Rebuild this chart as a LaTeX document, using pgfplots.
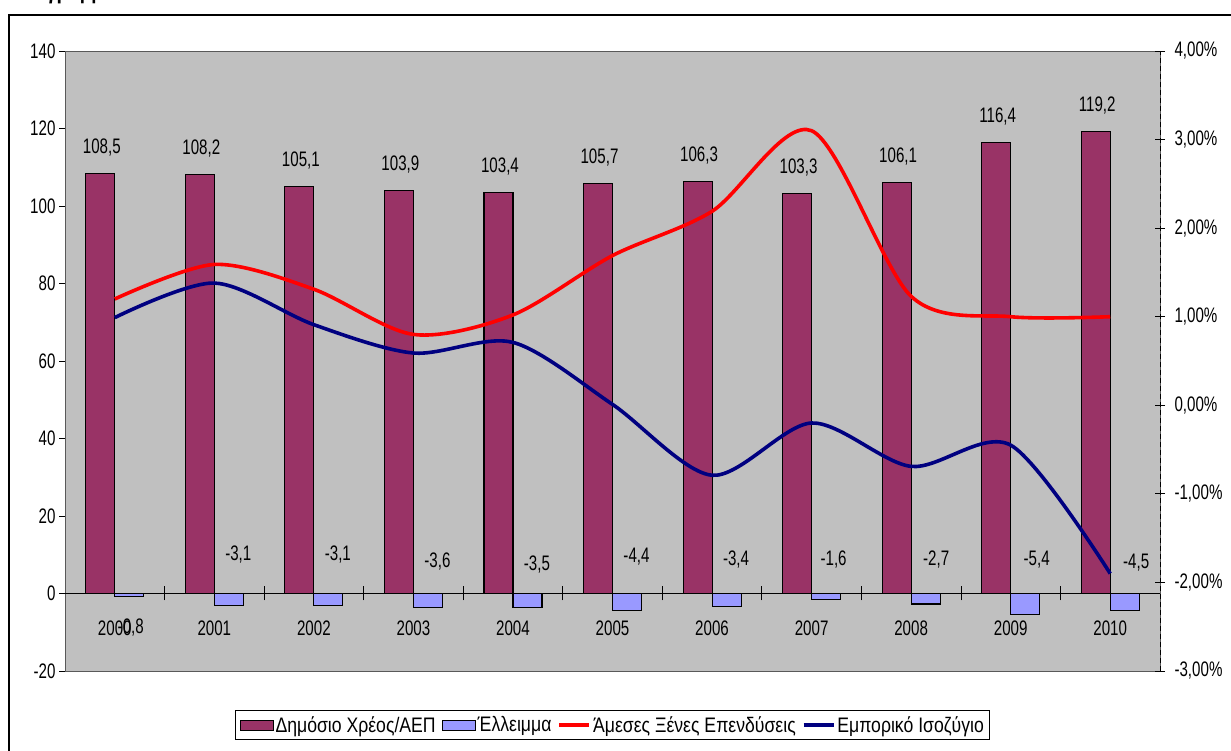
\documentclass[border=0pt]{standalone}
\usepackage{fontspec}
\setmainfont{Liberation Sans}[FakeStretch=0.72]
\newfontfamily\legfont{Liberation Sans}[FakeStretch=0.84]
\usepackage{pgfplots}
\pgfplotsset{compat=1.18}
\definecolor{debt}{HTML}{993366}
\definecolor{defc}{HTML}{9999FF}
\definecolor{fdi}{HTML}{FF0000}
\definecolor{trade}{HTML}{000080}
\definecolor{plotbg}{HTML}{C0C0C0}
\newcommand{\lf}{\fontsize{21}{23}\selectfont}
\begin{document}
\begin{tikzpicture}[x=1pt,y=1pt]
\useasboundingbox (0,0) rectangle (1231,751);
\draw[line width=1.3pt] (9,-20) -- (9,736) -- (1260,736);
\node[anchor=base west, font=\fontsize{26}{28}\selectfont\bfseries, inner sep=0pt] at (16,752.5) {Διάγραμμα 1};

% ---------- left axis: bars ----------
\begin{axis}[
  at={(65pt,80pt)}, anchor=south west,
  width=1095pt, height=620pt, scale only axis,
  xmin=-0.5, xmax=10.5, ymin=-20, ymax=140,
  axis background/.style={fill=plotbg},
  axis line style={draw=black!65, line width=0.9pt},
  xtick={0,1,2,3,4,5,6,7,8,9,10},
  xticklabels={2000,2001,2002,2003,2004,2005,2006,2007,2008,2009,2010},
  major x tick style={draw=none},
  xticklabel style={anchor=center, yshift=49pt},
  ytick={-20,0,20,40,60,80,100,120,140},
  yticklabels={-20,0,20,40,60,80,100,120,140},
  ytick pos=left, tick align=outside, major tick length=6pt,
  y tick style={black, line width=0.8pt},
  tick label style={font=\lf},
  clip=false,
]
\addplot[ybar, bar width=29pt, bar shift=-14.5pt, fill=debt, draw=black, line width=1.1pt,
  point meta=explicit symbolic, nodes near coords,
  every node near coord/.append style={font=\lf, anchor=center, yshift=26pt, xshift=-13pt, text=black}]
  coordinates {
  (0,108.5) [108,5]
  (1,108.2) [108,2]
  (2,105.1) [105,1]
  (3,103.9) [103,9]
  (4,103.4) [103,4]
  (5,105.7) [105,7]
  (6,106.3) [106,3]
  (7,103.3) [103,3]
  (8,106.1) [106,1]
  (9,116.4) [116,4]
  (10,119.2) [119,2]
  };
\addplot[ybar, bar width=29pt, bar shift=14.5pt, fill=defc, draw=black, line width=1.1pt]
  coordinates {
  (0,-0.8) (1,-3.1) (2,-3.1) (3,-3.6) (4,-3.5) (5,-4.4)
  (6,-3.4) (7,-1.6) (8,-2.7) (9,-5.4) (10,-4.5)
  };
\addplot[black, line width=1.1pt] coordinates {(-0.5,0) (10.5,0)};
\pgfplotsinvokeforeach{0.5,1.5,2.5,3.5,4.5,5.5,6.5,7.5,8.5,9.5}{
  \draw[black, line width=0.8pt] ([yshift=-7pt]axis cs:#1,0) -- ([yshift=7pt]axis cs:#1,0);
}
% deficit labels
\begin{scope}[every node/.style={font=\lf, inner sep=0pt}]
\node at (axis cs:0,-8.8) [xshift=16pt] {-0,8};
\node at (axis cs:1,10.1) [xshift=24pt] {-3,1};
\node at (axis cs:2,10.1) [xshift=24pt] {-3,1};
\node at (axis cs:3,8.3) [xshift=24pt] {-3,6};
\node at (axis cs:4,7.5) [xshift=24pt] {-3,5};
\node at (axis cs:5,9.5) [xshift=24pt] {-4,4};
\node at (axis cs:6,8.8) [xshift=24pt] {-3,4};
\node at (axis cs:7,8.8) [xshift=22pt] {-1,6};
\node at (axis cs:8,8.8) [xshift=25pt] {-2,7};
\node at (axis cs:9,8.8) [xshift=26pt] {-5,4};
\node at (axis cs:10,8.0) [xshift=26pt] {-4,5};
\end{scope}
\end{axis}

% ---------- right axis: lines ----------
\begin{axis}[
  at={(65pt,80pt)}, anchor=south west,
  width=1095pt, height=620pt, scale only axis,
  xmin=-0.5, xmax=10.5, ymin=-3, ymax=4,
  axis x line=none, axis y line*=right,
  y axis line style={black, line width=0.9pt, dash pattern=on 5pt off 3pt},
  ytick={-3,-2,-1,0,1,2,3,4},
  yticklabels={{-3,00\%},{-2,00\%},{-1,00\%},{0,00\%},{1,00\%},{2,00\%},{3,00\%},{4,00\%}},
  tick align=center, major tick length=10pt,
  y tick style={black, line width=0.8pt},
  yticklabel style={font=\lf, xshift=6pt},
  clip=false,
  legend columns=4,
  legend style={at={(0.1553,-0.0629)}, anchor=north west, draw=black, line width=0.9pt,
    fill=white, font=\legfont\fontsize{21}{23}\selectfont, inner xsep=4pt, inner ysep=4pt,
    /tikz/every even column/.append style={column sep=4pt}},
  legend cell align=left,
  legend image code/.code={\draw[#1] (0pt,0pt) -- (30pt,0pt);},
]
\addlegendimage{legend image code/.code={\draw[fill=debt, draw=black, line width=1pt] (0pt,-5pt) rectangle (33pt,5pt);}}
\addlegendentry{Δημόσιο Χρέος/ΑΕΠ}
\addlegendimage{legend image code/.code={\draw[fill=defc, draw=black, line width=1pt] (0pt,-5pt) rectangle (33pt,5pt);}}
\addlegendentry{Έλλειμμα}
\addplot[fdi, line width=3.6pt, smooth, tension=0.5] coordinates {
  (0,1.20) (1,1.59) (2,1.31) (3,0.80) (4,1.02) (5,1.69)
  (6,2.19) (7,3.10) (8,1.23) (9,1.00) (10,1.00)
};
\addlegendentry{Άμεσες Ξένες Επενδύσεις}
\addplot[trade, line width=3.6pt, smooth, tension=0.5] coordinates {
  (0,0.99) (1,1.38) (2,0.91) (3,0.59) (4,0.71) (5,0.01)
  (6,-0.79) (7,-0.20) (8,-0.69) (9,-0.45) (10,-1.90)
};
\addlegendentry{Εμπορικό Ισοζύγιο}
\end{axis}
\end{tikzpicture}
\end{document}
